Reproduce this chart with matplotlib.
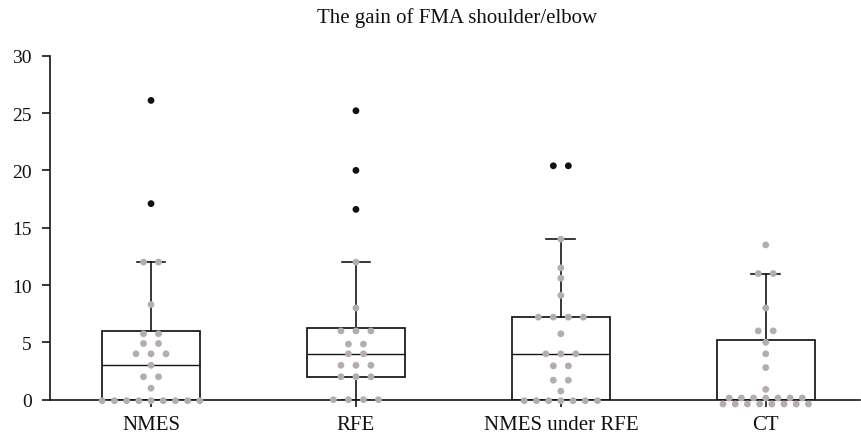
import numpy as np
import matplotlib
matplotlib.use("Agg")
import matplotlib.pyplot as plt
from collections import Counter

# ---------------- data ----------------
categories = ["NMES", "RFE", "NMES under RFE", "CT"]

points_nmes = [0]*9 + [1, 2, 2, 3, 4, 4, 4, 4.9, 4.9, 5.75, 5.75, 8.3, 12, 12]
points_rfe = [0]*4 + [2, 2, 2, 3, 3, 3, 4, 4, 4.85, 4.85, 6, 6, 6, 8, 12]
points_nur = [0]*7 + [0.75, 1.7, 1.7, 2.95, 2.95, 4, 4, 4, 5.75, 7.2, 7.2, 7.2, 7.2,
                      9.1, 10.6, 11.5, 14]
points_ct = [0]*15 + [0.9, 2.8, 4, 5, 6, 6, 8, 11, 11, 13.5]

outliers_nmes = [17.1, 26.1]
outliers_rfe = [16.6, 20, 25.2]
outliers_nur = [20.4, 20.4]
outliers_ct = []

q1 = [0, 2, 0, 0]
median = [3, 4, 4, 0]
q3 = [6, 6.28, 7.24, 5.23]
whisker_low = [0, 0, 0, 0]
whisker_high = [12, 12, 14, 11]

yticks = [0, 5, 10, 15, 20, 25, 30]

points = [points_nmes, points_rfe, points_nur, points_ct]
outliers = [outliers_nmes, outliers_rfe, outliers_nur, outliers_ct]

# ---------------- figure ----------------
W, H, DPI = 861, 435, 100
fig = plt.figure(figsize=(W / DPI, H / DPI), dpi=DPI)
ax = fig.add_axes([50 / W, (H - 400.7) / H, (860 - 50) / W, (400.7 - 56.7) / H])

serif = ["Liberation Serif", "DejaVu Serif"]
xlim = (-0.493, 3.46)
ylim = (0, 30)
ax.set_xlim(*xlim)
ax.set_ylim(*ylim)

# pixel -> data conversion helpers
ax_w_px = 810
ax_h_px = 344
px_x = (xlim[1] - xlim[0]) / ax_w_px
px_y = (ylim[1] - ylim[0]) / ax_h_px

line_col = "#151515"
stats = []
for i in range(len(categories)):
    stats.append(dict(med=median[i], q1=q1[i], q3=q3[i],
                      whislo=whisker_low[i], whishi=whisker_high[i], fliers=[]))

ax.bxp(stats, positions=range(len(categories)), widths=0.48, capwidths=0.14,
       showfliers=False, patch_artist=True,
       boxprops=dict(facecolor="white", edgecolor=line_col, linewidth=1.25),
       medianprops=dict(color=line_col, linewidth=1.0),
       whiskerprops=dict(color=line_col, linewidth=1.2),
       capprops=dict(color=line_col, linewidth=1.2),
       manage_ticks=False, zorder=2)


def swarm(vals, center):
    xs, ys = [], []
    cnt = Counter(vals)
    for v, n in cnt.items():
        if n <= 6:
            sp = 15.0
            offs = [(k - (n - 1) / 2) * sp for k in range(n)]
            xs += [center + o * px_x for o in offs]
            ys += [v] * n
        elif n <= 10:
            sp = 12.2
            offs = [(k - (n - 1) / 2) * sp for k in range(n)]
            xs += [center + o * px_x for o in offs]
            ys += [v - 1.0 * px_y] * n
        else:
            sp = 12.2
            n_low = (n + 1) // 2
            n_up = n - n_low
            for nr, dy in ((n_up, 1.7), (n_low, -4.3)):
                offs = [(k - (nr - 1) / 2) * sp for k in range(nr)]
                xs += [center + o * px_x for o in offs]
                ys += [v + dy * px_y] * nr
    return xs, ys


for i in range(len(categories)):
    xs, ys = swarm(points[i], i)
    ax.scatter(xs, ys, s=24, color="#b5adad", edgecolors="none", zorder=3, clip_on=False)
    if outliers[i]:
        xs, ys = swarm(outliers[i], i)
        ax.scatter(xs, ys, s=24, color="#111111", edgecolors="none", zorder=3, clip_on=False)

for s in ("top", "right"):
    ax.spines[s].set_visible(False)
for s in ("left", "bottom"):
    ax.spines[s].set_color(line_col)
    ax.spines[s].set_linewidth(1.2)

ax.set_yticks(yticks)
ax.set_yticklabels([str(t) for t in yticks], fontfamily=serif, fontsize=14)
ax.set_xticks(range(len(categories)))
ax.set_xticklabels(categories, fontfamily=serif, fontsize=15)
ax.tick_params(axis="y", length=6, width=1.2, color=line_col, pad=7, labelcolor="#111111")
ax.tick_params(axis="x", length=5, width=1.2, color=line_col, pad=6, labelcolor="#111111")

fig.text(457 / W, 1 - 18 / H, "The gain of FMA shoulder/elbow", ha="center", va="center",
         fontfamily=serif, fontsize=15, color="#111111")

fig.savefig("out.png", dpi=DPI)
